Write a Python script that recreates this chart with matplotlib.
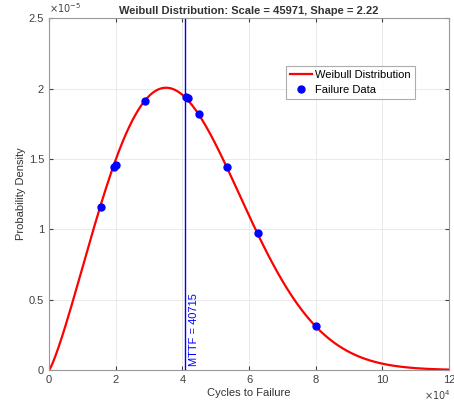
import numpy as np
import matplotlib.pyplot as plt
from matplotlib.ticker import FuncFormatter

plt.rcParams['font.family'] = ['Liberation Sans', 'DejaVu Sans']

# fitted weibull parameters (from the title)
scale = 45971
shape = 2.22
mttf = 40715

# failure data
fail_cycles = [15510, 19350, 19950, 28800, 40950, 41700, 45090, 53400, 62700, 80100]
fail_pdf = [1.16e-5, 1.44e-5, 1.46e-5, 1.91e-5, 1.94e-5, 1.93e-5, 1.82e-5, 1.44e-5, 0.975e-5, 0.315e-5]

x = np.linspace(0, 120000, 500)
pdf = (shape / scale) * (x / scale) ** (shape - 1) * np.exp(-(x / scale) ** shape)

fig = plt.figure(figsize=(4.54, 4.04), dpi=100)
ax = fig.add_axes([0.108, 0.084, 0.881, 0.871])

ax.plot(x, pdf, color='red', lw=1.6, label='Weibull Distribution')
ax.plot(fail_cycles, fail_pdf, 'o', color='blue', ms=5, label='Failure Data')
ax.axvline(mttf, color='blue', lw=1)
ax.text(mttf + 1400, 0.03e-5, 'MTTF = %d' % mttf, rotation=90, color='blue',
        fontsize=8, ha='left', va='bottom')

ax.set_xlim(0, 120000)
ax.set_ylim(0, 2.5e-5)
ax.set_xticks(np.arange(0, 120001, 20000))
ax.set_yticks(np.arange(0, 2.51e-5, 0.5e-5))
ax.xaxis.set_major_formatter(FuncFormatter(lambda v, p: '%g' % round(v / 1e4, 3)))
ax.yaxis.set_major_formatter(FuncFormatter(lambda v, p: '%g' % round(v / 1e-5, 3)))
ax.text(0, 1.008, r'$\times10^{-5}$', transform=ax.transAxes, fontsize=7,
        color='0.25', ha='left', va='bottom')
ax.text(1.005, -0.072, r'$\times10^{4}$', transform=ax.transAxes, fontsize=7,
        color='0.25', ha='right', va='center')

ax.grid(True, color='0.9', lw=0.6)
ax.tick_params(direction='in', labelsize=8, colors='0.25', length=3, top=True, right=True,
               labeltop=False, labelright=False)
for sp in ax.spines.values():
    sp.set_color('0.6')

ax.set_xlabel('Cycles to Failure', fontsize=8, color='0.2', labelpad=2)
ax.set_ylabel('Probability Density', fontsize=8, color='0.2', labelpad=2)
ax.set_title('Weibull Distribution: Scale = 45971, Shape = 2.22', fontsize=8,
             fontweight='bold', color='0.2', pad=3)

leg = ax.legend(loc='upper right', bbox_to_anchor=(0.915, 0.863), fontsize=8,
                frameon=True, fancybox=False, edgecolor='0.6', borderpad=0.35,
                handlelength=2.0, handletextpad=0.3, labelspacing=0.45,
                borderaxespad=0)
leg.get_frame().set_linewidth(0.8)

fig.savefig('out.png', dpi=100)
